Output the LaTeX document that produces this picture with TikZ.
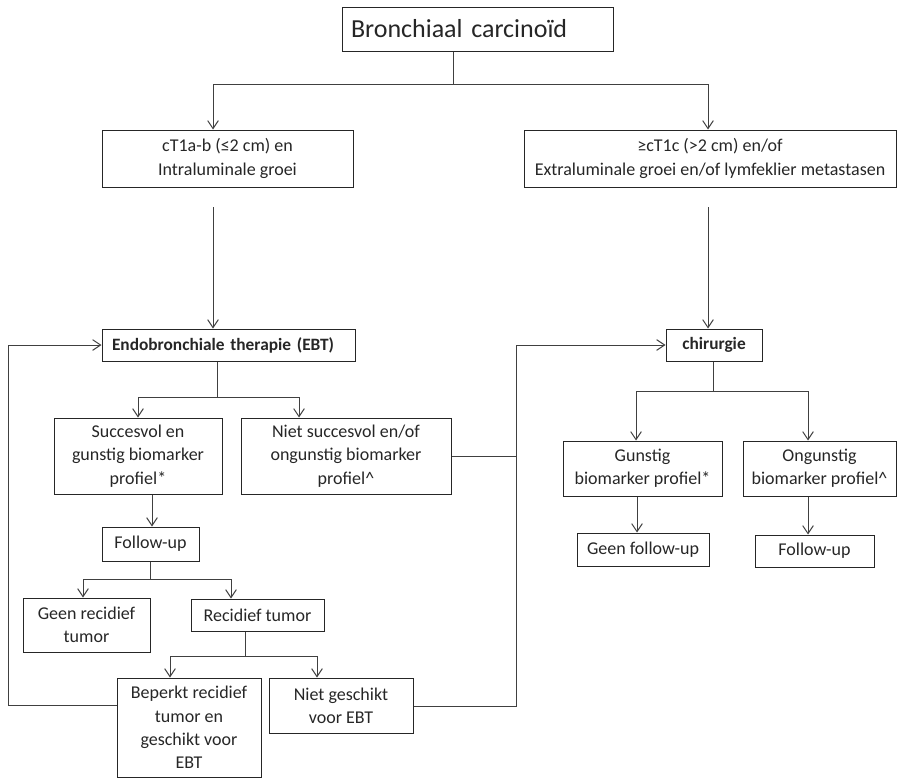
\documentclass[tikz,border=0pt]{standalone}
\usepackage{fontspec}
\setmainfont{Carlito}
\usetikzlibrary{arrows.meta}
\def\pxu{0.75pt}
\tikzset{
  box/.style={draw=black!85, line width=0.75pt, inner sep=0pt, align=center,
    font=\fontsize{13.5}{17.5}\selectfont, text=black!85},
  arr/.style={draw=black!75, line width=0.75pt, -{Straight Barb[length=6pt,width=8pt]}},
  ln/.style={draw=black!75, line width=0.75pt},
}
\begin{document}
\begin{tikzpicture}[x=0.75pt,y=-0.75pt]
\useasboundingbox (0,0) rectangle (897,778);
% nodes
\node[box, font=\fontsize{19.5}{24}\selectfont, minimum width=271*\pxu, minimum height=44*\pxu, text width=253*\pxu, align=left] (title) at (477.5,29) {Bronchiaal carcinoïd};
\node[box, minimum width=251*\pxu, minimum height=57*\pxu] (c1) at (227.5,158.5) {cT1a-b (≤2 cm) en\\Intraluminale groei};
\node[box, minimum width=372*\pxu, minimum height=57*\pxu] (c2) at (710,158.5) {≥cT1c (>2 cm) en/of\\Extraluminale groei en/of lymfeklier metastasen};
\node[box, font=\fontsize{13}{17}\selectfont\bfseries, minimum width=253*\pxu, minimum height=32*\pxu, text width=233*\pxu, align=left] (ebt) at (228.5,345) {Endobronchiale therapie (EBT)};
\node[box, font=\fontsize{13}{17}\selectfont\bfseries, minimum width=96*\pxu, minimum height=32*\pxu] (chir) at (714,345) {chirurgie};
\node[box, minimum width=168*\pxu, minimum height=76*\pxu] (succ) at (138,456) {Succesvol en\\gunstig biomarker\\profiel*};
\node[box, minimum width=210*\pxu, minimum height=76*\pxu] (niet) at (346,456) {Niet succesvol en/of\\ongunstig biomarker\\profiel\^{}};
\node[box, minimum width=97*\pxu, minimum height=34*\pxu] (fu1) at (150.5,544) {Follow-up};
\node[box, minimum width=127*\pxu, minimum height=54*\pxu] (geen) at (86.5,625) {Geen recidief\\tumor};
\node[box, minimum width=133*\pxu, minimum height=32*\pxu] (rec) at (257.5,615) {Recidief tumor};
\node[box, minimum width=144*\pxu, minimum height=99*\pxu] (bep) at (189,727.5) {Beperkt recidief\\tumor en\\geschikt voor\\EBT};
\node[box, minimum width=144*\pxu, minimum height=55*\pxu] (ng) at (341,705.5) {Niet geschikt\\voor EBT};
\node[box, minimum width=159*\pxu, minimum height=55*\pxu] (gun) at (642.5,468.5) {Gunstig\\biomarker profiel*};
\node[box, minimum width=153*\pxu, minimum height=55*\pxu] (ong) at (819.5,468.5) {Ongunstig\\biomarker profiel\^{}};
\node[box, minimum width=132*\pxu, minimum height=33*\pxu] (gfu) at (643,549.5) {Geen follow-up};
\node[box, minimum width=119*\pxu, minimum height=32*\pxu] (fu2) at (814.5,551) {Follow-up};
% junction coordinates
\coordinate (j0) at (453,84);
\coordinate (j0l) at (213,84);
\coordinate (j0r) at (708,84);
\coordinate (s1) at (213,207);
\coordinate (s2) at (708,207);
\coordinate (j1) at (217,397);
\coordinate (j1l) at (138,397);
\coordinate (j1r) at (299,397);
\coordinate (j2) at (150,579);
\coordinate (j2l) at (83,579);
\coordinate (j2r) at (231,579);
\coordinate (j3) at (245,656);
\coordinate (j3l) at (170,656);
\coordinate (j3r) at (317,656);
\coordinate (j4) at (713,391);
\coordinate (j4l) at (636,391);
\coordinate (j4r) at (808,391);
\coordinate (vx) at (516,456);
\coordinate (vt) at (516,345);
\coordinate (vb) at (516,706);
\coordinate (lp) at (8,705);
% title branch
\draw[ln] (title.south -| j0) -- (j0);
\draw[ln] (j0l) -- (j0r);
\draw[arr] (j0l) -- (j0l |- c1.north);
\draw[arr] (j0r) -- (j0r |- c2.north);
\draw[arr] (s1) -- (s1 |- ebt.north);
\draw[arr] (s2) -- (s2 |- chir.north);
% EBT branch
\draw[ln] (ebt.south -| j1) -- (j1);
\draw[ln] (j1l) -- (j1r);
\draw[arr] (j1l) -- (j1l |- succ.north);
\draw[arr] (j1r) -- (j1r |- niet.north);
\draw[arr] (succ.south -| 152,0) -- (fu1.north -| 152,0);
\draw[ln] (fu1.south -| j2) -- (j2);
\draw[ln] (j2l) -- (j2r);
\draw[arr] (j2l) -- (j2l |- geen.north);
\draw[arr] (j2r) -- (j2r |- rec.north);
\draw[ln] (rec.south -| j3) -- (j3);
\draw[ln] (j3l) -- (j3r);
\draw[arr] (j3l) -- (j3l |- bep.north);
\draw[arr] (j3r) -- (j3r |- ng.north);
% loop back to EBT
\draw[arr] (bep.west |- lp) -- (lp) -- (lp |- ebt.west) -- (ebt.west);
% to chirurgie
\draw[ln] (niet.east |- vx) -- (vx);
\draw[ln] (ng.east |- vb) -- (vb) -- (vt);
\draw[arr] (vt) -- (chir.west |- vt);
% chirurgie branch
\draw[ln] (chir.south -| j4) -- (j4);
\draw[ln] (j4l) -- (j4r);
\draw[arr] (j4l) -- (j4l |- gun.north);
\draw[arr] (j4r) -- (j4r |- ong.north);
\draw[arr] (gun.south -| 637,0) -- (gfu.north -| 637,0);
\draw[arr] (ong.south -| 808,0) -- (fu2.north -| 808,0);
\end{tikzpicture}
\end{document}
